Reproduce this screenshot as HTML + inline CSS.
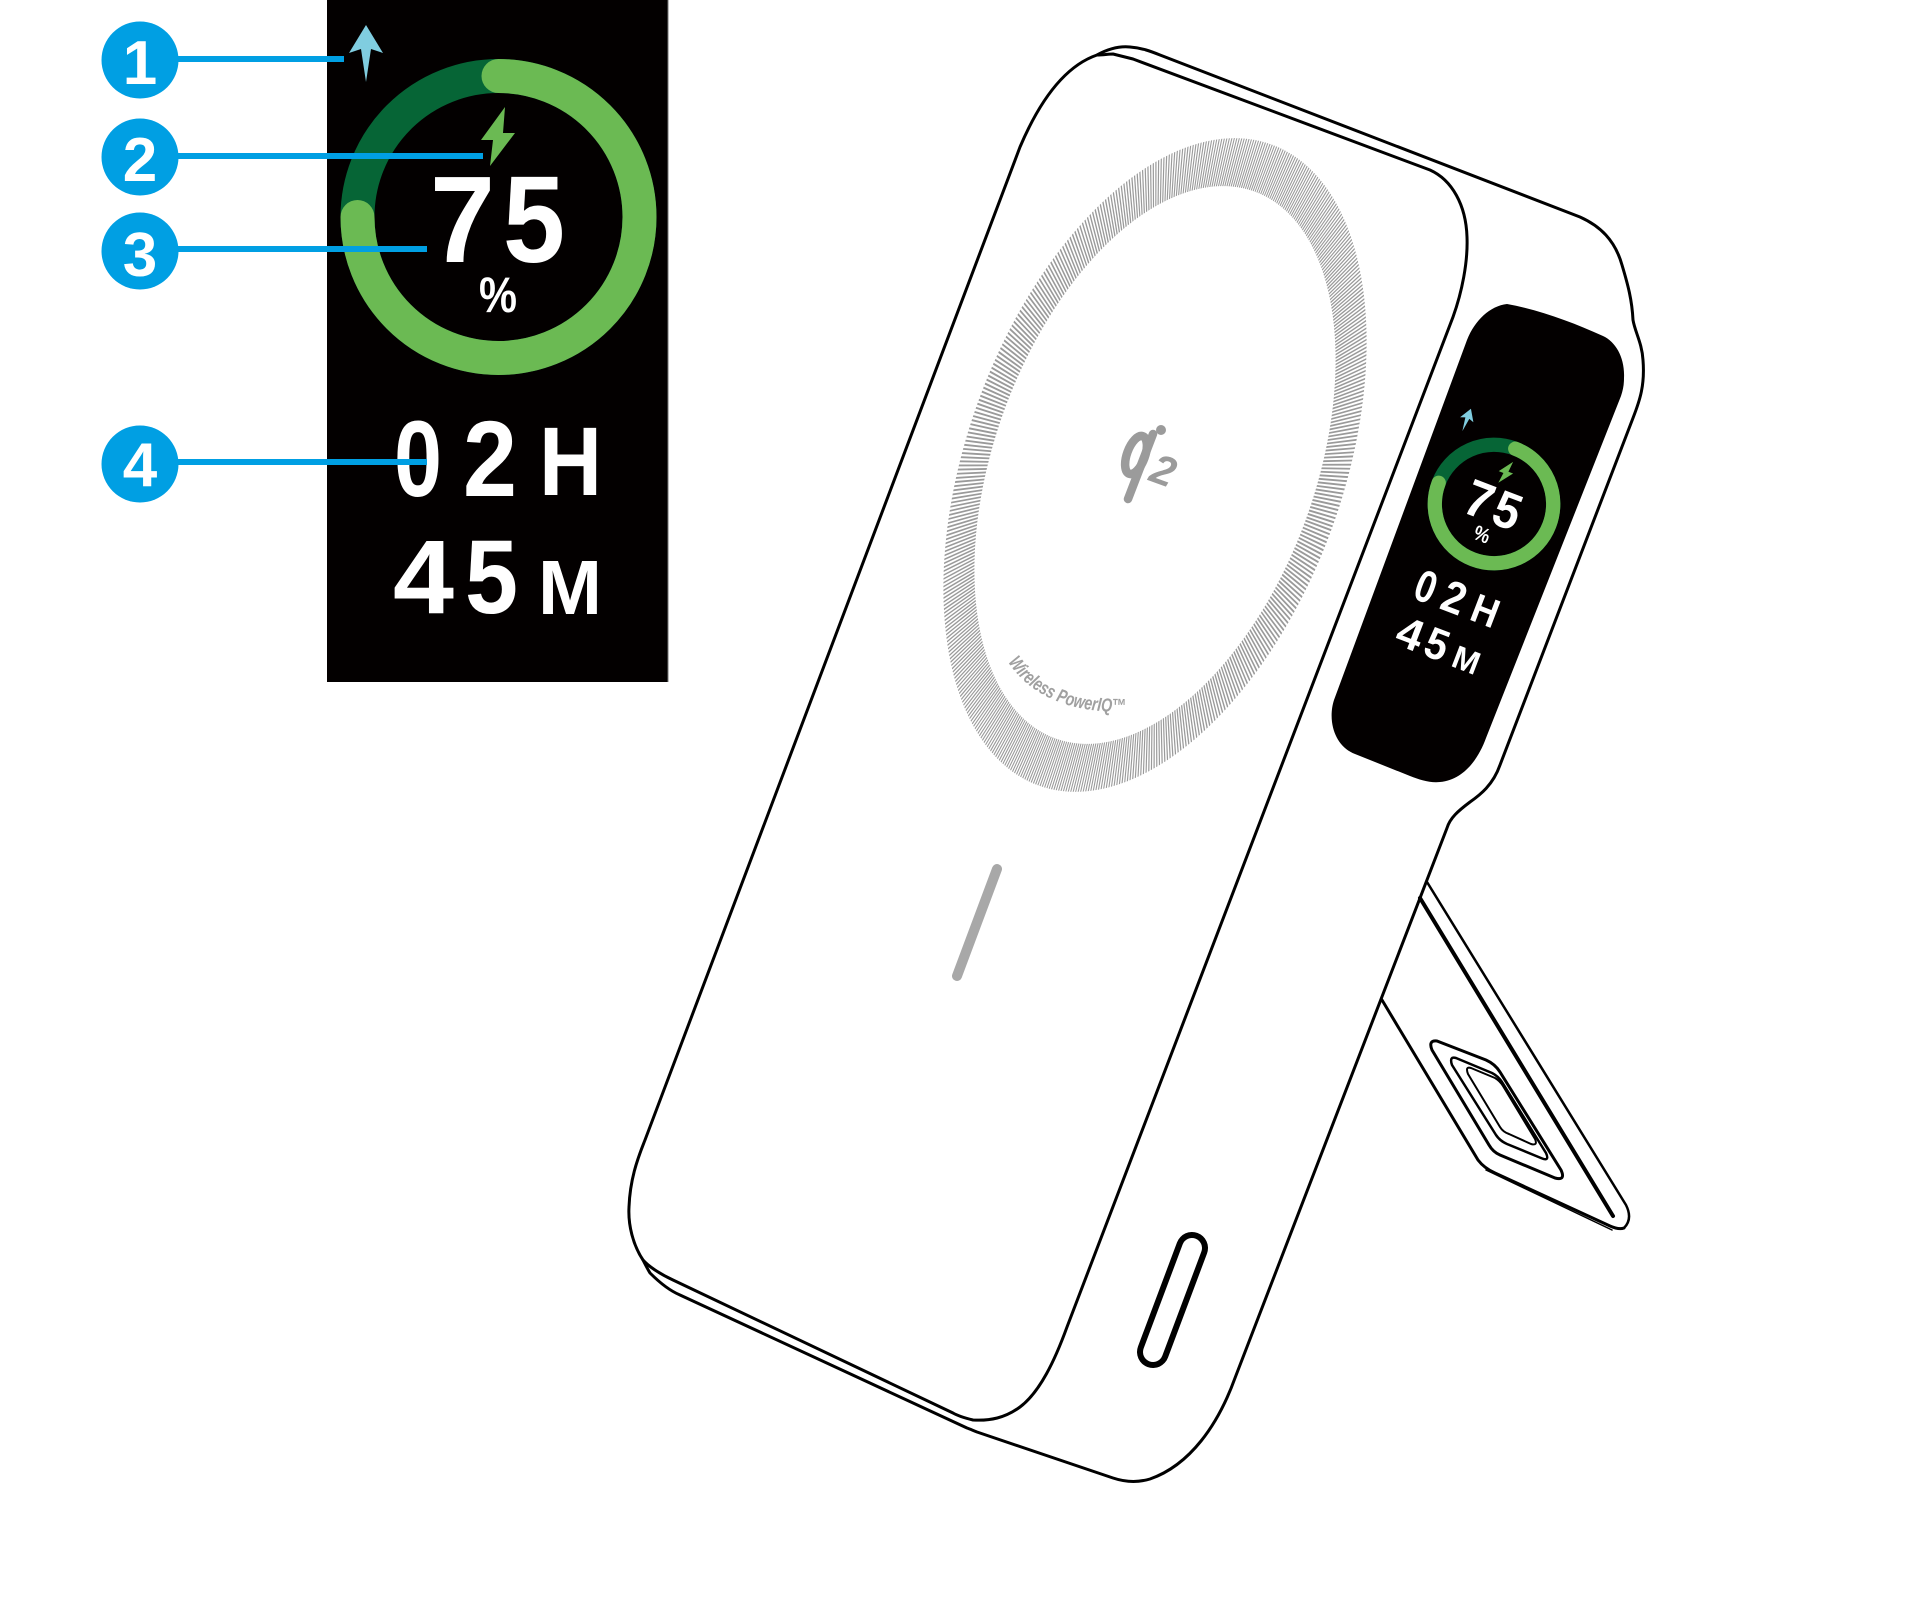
<!DOCTYPE html>
<html>
<head>
<meta charset="utf-8">
<style>
  html, body { margin:0; padding:0; background:#ffffff; }
  body { width:1929px; height:1611px; overflow:hidden; }
  svg { display:block; }
  text { font-family:"Liberation Sans", sans-serif; }
</style>
</head>
<body>
<svg width="1929" height="1611" viewBox="0 0 1929 1611" xmlns="http://www.w3.org/2000/svg">
  <defs>
    <path id="wpath" d="M1008,662 Q1042,714 1129,712"/>
  </defs>

  <!-- ===== Left: enlarged display panel ===== -->
  <rect x="327" y="0" width="341" height="682" fill="#030000"/>
  <line x1="668" y1="0" x2="668" y2="682" stroke="#777" stroke-width="1"/>

  <!-- arrow -->
  <polygon points="366,25 383,53 371,49 366,82 361,49 349,53" fill="#80cde0"/>
  <!-- ring -->
  <circle cx="498.5" cy="217" r="141" fill="none" stroke="#066536" stroke-width="34"/>
  <path d="M498.5,76 A141,141 0 1 1 357.5,217" fill="none" stroke="#6bba53" stroke-width="34" stroke-linecap="round"/>
  <!-- lightning -->
  <polygon points="505,107 481,140 493,140 490,166 515,133 503,133" fill="#6bba53"/>
  <!-- 75 % -->
  <text x="430" y="262" font-size="123" font-weight="bold" fill="#fff" textLength="65" lengthAdjust="spacingAndGlyphs">7</text>
  <text x="503" y="262" font-size="123" font-weight="bold" fill="#fff" textLength="62" lengthAdjust="spacingAndGlyphs">5</text>
  <text x="479" y="312" font-size="50" font-weight="bold" fill="#fff" textLength="38" lengthAdjust="spacingAndGlyphs">%</text>
  <!-- 02H 45M -->
  <text x="394" y="496" font-size="108" font-weight="bold" fill="#fff" textLength="48" lengthAdjust="spacingAndGlyphs">0</text>
  <text x="463" y="496" font-size="108" font-weight="bold" fill="#fff" textLength="54" lengthAdjust="spacingAndGlyphs">2</text>
  <text x="539" y="495" font-size="97" font-weight="bold" fill="#fff" textLength="63" lengthAdjust="spacingAndGlyphs">H</text>
  <text x="393" y="613" font-size="105" font-weight="bold" fill="#fff" textLength="61" lengthAdjust="spacingAndGlyphs">4</text>
  <text x="465" y="613" font-size="105" font-weight="bold" fill="#fff" textLength="53" lengthAdjust="spacingAndGlyphs">5</text>
  <text x="538" y="614" font-size="77" font-weight="bold" fill="#fff" textLength="64" lengthAdjust="spacingAndGlyphs">M</text>

  <!-- callout lines -->
  <g stroke="#009fe3" stroke-width="6">
    <line x1="140" y1="59" x2="344" y2="59"/>
    <line x1="140" y1="156" x2="483" y2="156"/>
    <line x1="140" y1="249" x2="427" y2="249"/>
    <line x1="140" y1="462" x2="427" y2="462"/>
  </g>
  <!-- callout circles -->
  <g fill="#009fe3">
    <circle cx="140" cy="60" r="38.5"/>
    <circle cx="140" cy="157" r="38.5"/>
    <circle cx="140" cy="251" r="38.5"/>
    <circle cx="140" cy="464" r="38.5"/>
  </g>
  <g fill="#fff" font-size="62" font-weight="bold" text-anchor="middle">
    <text x="140" y="84">1</text>
    <text x="140" y="181">2</text>
    <text x="140" y="276">3</text>
    <text x="140" y="486">4</text>
  </g>

  <!-- ===== Right: device drawing ===== -->
  <!-- hatched magnetic ring -->
  <g transform="translate(1155,465) rotate(20) scale(0.551,1)">
    <circle cx="0" cy="0" r="316" fill="none" stroke="#9a9a9a" stroke-width="50" stroke-dasharray="1.9 2.103"/>
  </g>

  <!-- qi2 logo -->
  <g fill="none" stroke="#9b9b9b" stroke-width="8.5" stroke-linecap="round">
    <ellipse cx="1136" cy="455" rx="9" ry="20" transform="rotate(20 1136 455)"/>
    <line x1="1153" y1="434" x2="1128" y2="499"/>
  </g>
  <circle cx="1161" cy="430" r="5" fill="#9b9b9b"/>
  <text x="1164" y="485" font-size="42" font-weight="bold" font-style="italic" fill="#9b9b9b" text-anchor="middle" transform="rotate(20 1164 469)">2</text>

  <!-- Wireless PowerIQ text -->
  <text font-size="19" font-style="italic" font-weight="bold" fill="#a0a0a0">
    <textPath href="#wpath" textLength="134" lengthAdjust="spacingAndGlyphs">Wireless PowerIQ™</textPath>
  </text>

  <!-- power indicator bar -->
  <line x1="997" y1="869" x2="957" y2="976" stroke="#a8a8a8" stroke-width="10" stroke-linecap="round"/>

  <!-- front face outline -->
  <path d="M1097,55 C1103,55 1108,54 1113,54 L1133,59 L1430,170 C1452,180 1466,205 1467,237 C1468,262 1462,292 1453,317 L1067,1327 C1055,1360 1040,1392 1020,1407 C1005,1418 990,1421 973,1420 C965,1418 958,1416 953,1413 L673,1280 C660,1274 648,1266 643,1260 C633,1245 628,1225 629,1207 C630,1180 637,1160 645,1140 L1020,147 C1040,100 1065,66 1097,55 Z"
        fill="none" stroke="#000" stroke-width="3" stroke-linejoin="round"/>

  <!-- back / silhouette outline -->
  <path d="M1097,55 C1108,49 1120,46 1130,47 C1142,48 1150,51 1160,55 L1580,217 C1600,226 1615,240 1622,265 C1628,285 1632,300 1633,320 C1635,332 1642,343 1643,360 C1645,385 1640,400 1633,418 L1500,765 C1493,785 1480,795 1470,802 C1458,811 1450,818 1447,828 L1235,1378 C1218,1425 1190,1465 1150,1479 C1140,1482 1128,1483 1113,1478 L977,1432 C972,1430 970,1429 967,1428 L680,1295 C668,1290 657,1280 650,1273 C647,1268 645,1264 643,1260"
        fill="none" stroke="#000" stroke-width="3" stroke-linejoin="round"/>

  <!-- kickstand -->
  <g fill="none" stroke="#000" stroke-linejoin="round" stroke-linecap="round">
    <path d="M1427,882 L1626,1205 Q1633,1219 1624,1228" stroke-width="2.5"/>
    <path d="M1420,898 L1613,1216" stroke-width="4"/>
    <path d="M1382,1000 L1478,1160 Q1484,1168 1495,1173 L1610,1226 Q1619,1230 1624,1228" stroke-width="3"/>
    <path d="M1486,1170 L1612,1230" stroke-width="1.5"/>
    <path d="M1437,1041 L1486,1060 Q1495,1064 1500,1072 L1561,1170 Q1566,1181 1555,1178 L1500,1155 Q1493,1152 1489,1145 L1432,1050 Q1428,1040 1437,1041 Z" stroke-width="3"/>
    <path d="M1456,1058 L1492,1073 Q1498,1076 1502,1082 L1546,1153 Q1550,1162 1541,1158 L1507,1144 Q1500,1141 1496,1135 L1452,1065 Q1449,1056 1456,1058 Z" stroke-width="2.5"/>
    <path d="M1471,1068 L1495,1078 Q1500,1081 1503,1086 L1535,1139 Q1538,1146 1531,1144 L1509,1134 Q1503,1132 1500,1127 L1468,1074 Q1465,1066 1471,1068 Z" stroke-width="2"/>
  </g>

  <!-- USB-C port -->
  <line x1="1192" y1="1248" x2="1153" y2="1352" stroke="#000" stroke-width="32" stroke-linecap="round"/>
  <line x1="1192" y1="1248" x2="1153" y2="1352" stroke="#fff" stroke-width="20" stroke-linecap="round"/>

  <!-- device display window -->
  <path d="M1507,304 C1540,310 1572,322 1603,336 C1616,342 1625,358 1624,378 C1624,385 1623,390 1621,396 L1486,738 C1478,760 1463,780 1440,782 C1430,783 1420,780 1410,776 L1355,754 C1342,749 1334,737 1332,722 C1331,714 1332,706 1334,700 L1467,340 C1475,320 1490,306 1507,304 Z" fill="#030000"/>

  <!-- mini display content -->
  <g transform="translate(1494,504) rotate(21) scale(0.42) translate(-498.5,-217)">
    <polygon points="366,25 383,53 371,49 366,82 361,49 349,53" fill="#80cde0"/>
    <circle cx="498.5" cy="217" r="141" fill="none" stroke="#066536" stroke-width="34"/>
    <path d="M498.5,76 A141,141 0 1 1 357.5,217" fill="none" stroke="#6bba53" stroke-width="34" stroke-linecap="round"/>
    <polygon points="505,107 481,140 493,140 490,166 515,133 503,133" fill="#6bba53"/>
    <text x="430" y="262" font-size="123" font-weight="bold" fill="#fff" textLength="65" lengthAdjust="spacingAndGlyphs">7</text>
    <text x="503" y="262" font-size="123" font-weight="bold" fill="#fff" textLength="62" lengthAdjust="spacingAndGlyphs">5</text>
    <text x="479" y="312" font-size="50" font-weight="bold" fill="#fff" textLength="38" lengthAdjust="spacingAndGlyphs">%</text>
    <text x="394" y="496" font-size="108" font-weight="bold" fill="#fff" textLength="48" lengthAdjust="spacingAndGlyphs">0</text>
    <text x="463" y="496" font-size="108" font-weight="bold" fill="#fff" textLength="54" lengthAdjust="spacingAndGlyphs">2</text>
    <text x="539" y="495" font-size="97" font-weight="bold" fill="#fff" textLength="63" lengthAdjust="spacingAndGlyphs">H</text>
    <text x="393" y="613" font-size="105" font-weight="bold" fill="#fff" textLength="61" lengthAdjust="spacingAndGlyphs">4</text>
    <text x="465" y="613" font-size="105" font-weight="bold" fill="#fff" textLength="53" lengthAdjust="spacingAndGlyphs">5</text>
    <text x="538" y="614" font-size="77" font-weight="bold" fill="#fff" textLength="64" lengthAdjust="spacingAndGlyphs">M</text>
  </g>
</svg>
</body>
</html>
